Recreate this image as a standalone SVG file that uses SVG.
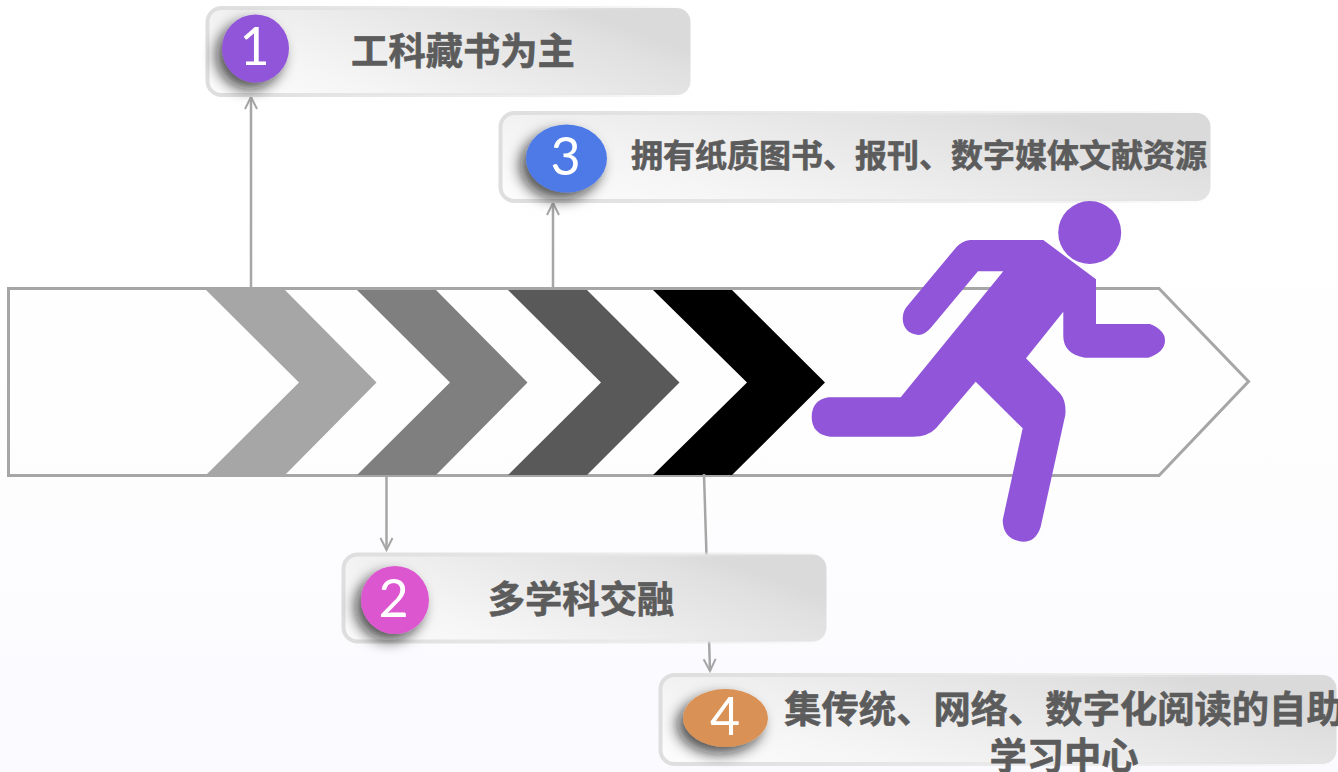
<svg xmlns="http://www.w3.org/2000/svg" width="1338" height="772" viewBox="0 0 1338 772">
<style>
.card{fill:url(#cardFill);stroke:url(#cardEdge);stroke-width:4}
.t{font-family:"Noto Sans CJK SC","Liberation Sans",sans-serif;font-weight:700;fill:#5c5c5c;stroke:#5c5c5c;stroke-width:0.6;text-anchor:middle}
.n{font-family:Lato,"Liberation Sans",sans-serif;font-size:52px;fill:#fff;text-anchor:middle}
.c{fill:none;stroke:#a6a6a6;stroke-width:2.5}
.a{marker-end:url(#arrow)}
.dot{filter:url(#sh)}
</style>
<defs>
<linearGradient id="bg" x1="0" y1="0" x2="0" y2="1"><stop offset="0" stop-color="#fff"/><stop offset="0.55" stop-color="#fefefe"/><stop offset="1" stop-color="#fafaff"/></linearGradient>
<linearGradient id="cardFill" x1="0" y1="1" x2="1" y2="0.5"><stop offset="0" stop-color="#fdfdfd"/><stop offset="0.3" stop-color="#f5f5f5"/><stop offset="0.9" stop-color="#e0e0e0"/><stop offset="1" stop-color="#dadada"/></linearGradient>
<linearGradient id="cardEdge" x1="0" y1="0" x2="1" y2="0"><stop offset="0" stop-color="#dedede"/><stop offset="0.7" stop-color="#e8e8e8" stop-opacity="0.7"/><stop offset="1" stop-color="#d9d9d9" stop-opacity="0"/></linearGradient>
<filter id="sh" x="-50%" y="-50%" width="200%" height="200%"><feDropShadow dx="-6" dy="7" stdDeviation="7" flood-color="#111" flood-opacity="0.72"/></filter>
<marker id="arrow" markerUnits="userSpaceOnUse" markerWidth="18" markerHeight="18" refX="14" refY="8" orient="auto"><path d="M2 2L14 8L2 14" fill="none" stroke="#a6a6a6" stroke-width="2"/></marker>
</defs>
<rect width="1338" height="772" fill="url(#bg)"/>
<g id="timeline-arrow">
<path d="M8.500 288.500H1159L1248.500 381.500L1159 475.500H8.500Z" fill="none" stroke="#a6a6a6" stroke-width="3"/>
<path d="M206 290H285L376.500 382.500L285 475H206L299 382.500Z" fill="#a6a6a6"/>
<path d="M357 290H436L527.500 382.500L436 475H357L450 382.500Z" fill="#7f7f7f"/>
<path d="M508 290H587L679.500 382.500L587 475H508L601 382.500Z" fill="#595959"/>
<path d="M653 290H732L825 382.500L732 475H653L747 382.500Z" fill="#000"/>
</g>
<g id="connectors">
<path class="c a" d="M251 288V97"/>
<path class="c a" d="M553 288V203"/>
<path class="c a" d="M386.500 475V550"/>
<path class="c a" d="M704 474L710 671"/>
</g>
<g id="node-1">
<rect class="card" x="207.500" y="8" width="483" height="87" rx="14"/>
<ellipse class="dot" cx="255.500" cy="48.500" rx="33.500" ry="34" fill="#9055d9"/>
<text class="n" x="254.500" y="65">1</text>
<text class="t" x="463" y="64.500" font-size="37.300">工科藏书为主</text>
</g>
<g id="node-3">
<rect class="card" x="500.500" y="113" width="710" height="88" rx="14"/>
<ellipse class="dot" cx="566.500" cy="158.500" rx="40.500" ry="34" fill="#4e7ae6"/>
<text class="n" x="565.500" y="175">3</text>
<text class="t" x="919" y="167" font-size="32">拥有纸质图书、报刊、数字媒体文献资源</text>
</g>
<g id="node-2">
<rect class="card" x="343.500" y="554.500" width="483" height="87" rx="14"/>
<ellipse class="dot" cx="395" cy="600" rx="34" ry="34" fill="#dc57cf"/>
<text class="n" x="393.500" y="617">2</text>
<text class="t" x="581" y="613" font-size="37.300">多学科交融</text>
</g>
<g id="node-4">
<rect class="card" x="660.500" y="675" width="676" height="89" rx="14"/>
<ellipse class="dot" cx="725.500" cy="718" rx="42.500" ry="29" fill="#da9155"/>
<text class="n" x="725" y="735">4</text>
<text class="t" x="1064" y="723" font-size="37.300"><tspan x="1064">集传统、网络、数字化阅读的自助</tspan><tspan x="1064" y="770">学习中心</tspan></text>
</g>
<g id="runner" fill="#9055d9">
<circle cx="1089.700" cy="232.500" r="31.500"/>
<path d="M1043.300 240L1096 279.300V324H1150Q1165 330 1165 340.500Q1165 352 1148.300 357.700H1085Q1063.300 354 1063.300 336V311.700L1026 358.300L1060 393.300Q1066.500 401 1065.300 415L1040.700 526.700Q1036 541.700 1023.300 541.700Q1003 540 1002.700 520L1022.700 428.300L975.700 381.700L936 428.300Q928 436.700 913 436.700H830Q811.700 434 811.700 416.700Q812 400 828.300 397.300H900.700L1003.300 271.300H978L931.700 326.700Q925 335 918.300 335Q903 333 902.700 318.300Q903 311 906.700 306.700L956.700 246.700Q962 241 970 240Z"/>
</g>
</svg>
